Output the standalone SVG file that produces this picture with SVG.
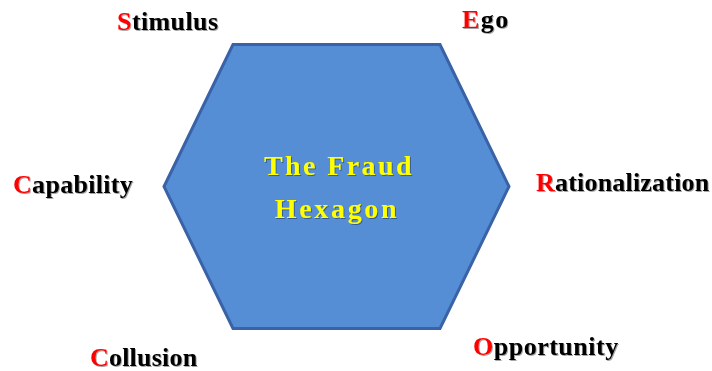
<svg xmlns="http://www.w3.org/2000/svg" width="712" height="371" viewBox="0 0 712 371">
<defs>
<style>
.lbl{font-family:"Liberation Serif","Times New Roman",serif;font-weight:bold;font-size:26px;fill:#000;}
.ini{fill:#FF0000;}
.ttl{font-family:"Liberation Serif","Times New Roman",serif;font-weight:bold;font-size:28px;fill:#FFFF00;text-anchor:middle;}
.hex{fill:#558ED5;stroke:#3A62A7;stroke-width:3;stroke-linejoin:miter;}
</style>
<filter id="sh" x="-10%" y="-20%" width="120%" height="140%">
<feDropShadow dx="1" dy="1" stdDeviation="0.6" flood-color="#000" flood-opacity="0.35"/>
</filter>
</defs>
<rect width="712" height="371" fill="#fff"/>
<g id="hexagon">
<polygon class="hex" points="233,44.5 440,44.5 509,186.5 440,328.5 233,328.5 164,186.5"/>
<text class="ttl" x="339" y="175" letter-spacing="2.4" filter="url(#sh)">The Fraud</text>
<text class="ttl" x="337" y="218" letter-spacing="2.7" filter="url(#sh)">Hexagon</text>
</g>
<g id="connectors"></g>
<g id="stimulus"><text class="lbl" x="117" y="30" letter-spacing="0.4" filter="url(#sh)"><tspan class="ini">S</tspan>timulus</text></g>
<g id="ego"><text class="lbl" x="462" y="28" letter-spacing="1.5" filter="url(#sh)"><tspan class="ini">E</tspan>go</text></g>
<g id="capability"><text class="lbl" x="13" y="193" letter-spacing="0.3" filter="url(#sh)"><tspan class="ini">C</tspan>apability</text></g>
<g id="rationalization"><text class="lbl" x="536" y="191" letter-spacing="0.2" filter="url(#sh)"><tspan class="ini">R</tspan>ationalization</text></g>
<g id="collusion"><text class="lbl" x="90" y="366" letter-spacing="0.2" filter="url(#sh)"><tspan class="ini">C</tspan>ollusion</text></g>
<g id="opportunity"><text class="lbl" x="473" y="355" letter-spacing="0.5" filter="url(#sh)"><tspan class="ini">O</tspan>pportunity</text></g>
</svg>
